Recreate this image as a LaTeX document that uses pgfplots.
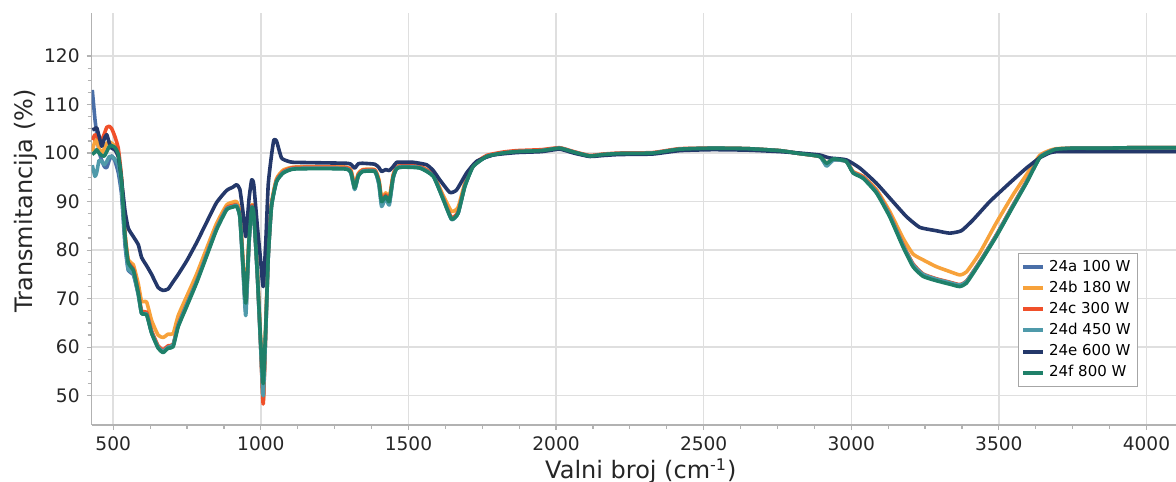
\documentclass[border=0pt]{standalone}
\usepackage{fontspec}
\setmainfont{DejaVu Sans}
\usepackage{pgfplots}
\pgfplotsset{compat=1.18}
\definecolor{ca}{HTML}{4A6FA8}
\definecolor{cb}{HTML}{F7A23B}
\definecolor{cc}{HTML}{F0502A}
\definecolor{cd}{HTML}{4F9AAA}
\definecolor{ce}{HTML}{24386A}
\definecolor{cf}{HTML}{1F8069}
\begin{document}
\begin{tikzpicture}
\begin{axis}[
 at={(0,0)}, anchor=south west,
 scale only axis, width=542.2pt, height=205.8pt,
 xmin=427, xmax=4100, ymin=44, ymax=128.8,
 axis x line*=bottom, axis y line*=left,
 axis line style={draw=gray!60, line width=0.75pt},
 xtick={500,1000,...,4000}, ytick={50,60,...,120},
 minor x tick num=3, minor y tick num=3,
 tick align=outside, major tick length=2.5pt, minor tick length=2pt,
 tick style={gray!60, line width=0.6pt},
 grid=major, major grid style={gray!25, line width=0.75pt},
 ticklabel style={font=\fontsize{9.3}{11}\selectfont, text=black!85},
 /pgf/number format/assume math mode=true,
 /pgf/number format/1000 sep={},
 clip=true,
 legend style={at={(axis description cs:0.854,0.418)}, anchor=north west,
   draw=gray!70, fill=white, font=\fontsize{7.5}{9}\selectfont,
   row sep=-0.6pt, inner sep=1.5pt},
 legend cell align=left,
 legend image code/.code={\draw[#1, line width=2pt] (0pt,0pt) -- (10pt,0pt);},
 every axis plot/.append style={line width=1.8pt, line join=round, smooth, tension=0.3},
]
\addplot[ca] coordinates {
(429,113.0)(438,107.0)(444,104.0)(452,100.3)(461,98.5)(470,97.2)(478,97.0)(487,98.6)(495,99.4)(505,98.5)(517,96.0)(528,91.5)(540,81.0)(551,75.8)(568,75.0)(585,70.8)(596,67.0)(613,66.8)(630,63.0)(652,60.0)(669,59.2)(686,60.0)(703,60.5)(720,64.5)(749,68.8)(782,73.5)(816,79.0)(850,84.5)(884,88.5)(906,89.0)(918,89.2)(929,86.8)(940,76.0)(949,67.5)(960,81.5)(969,88.7)(976,87.6)(988,75.0)(999,60.8)(1008,49.5)(1017,64.0)(1025,78.5)(1036,89.0)(1053,94.2)(1076,96.0)(1110,96.8)(1200,96.9)(1290,96.8)(1305,95.9)(1318,92.6)(1330,95.3)(1345,96.3)(1386,96.3)(1400,93.6)(1409,89.5)(1423,90.9)(1435,89.6)(1448,94.8)(1460,96.9)(1480,97.2)(1539,97.0)(1584,95.3)(1618,90.5)(1646,86.4)(1668,87.6)(1691,93.2)(1719,97.3)(1765,99.3)(1820,100.0)(1866,100.3)(1950,100.5)(2012,101.0)(2060,100.2)(2114,99.4)(2160,99.7)(2215,99.9)(2327,100.0)(2418,100.8)(2530,101.0)(2650,100.9)(2757,100.5)(2825,99.9)(2893,99.3)(2916,97.5)(2940,98.6)(2983,98.3)(3006,96.0)(3040,94.9)(3085,92.0)(3130,87.2)(3175,81.0)(3209,77.0)(3243,75.0)(3288,74.0)(3333,73.3)(3367,72.8)(3390,73.5)(3435,77.5)(3491,83.0)(3548,89.2)(3593,94.0)(3638,99.1)(3670,100.3)(3694,100.8)(3750,101.0)(3850,101.0)(3950,101.1)(4050,101.1)(4100,101.1)
};
\addlegendentry{24a 100 W}
\addplot[cb] coordinates {
(429,100.3)(438,102.5)(444,102.7)(452,101.0)(461,100.0)(470,101.0)(478,102.0)(487,102.3)(495,102.0)(505,101.5)(517,99.5)(528,94.5)(540,83.5)(551,78.0)(568,77.0)(585,73.0)(596,69.5)(613,69.3)(630,65.5)(652,62.5)(669,62.0)(686,62.7)(703,62.8)(720,66.5)(749,70.5)(782,75.0)(816,80.3)(850,85.5)(884,89.3)(906,89.9)(918,90.0)(929,87.8)(940,77.5)(949,69.5)(960,82.8)(969,89.2)(976,88.3)(988,76.0)(999,62.0)(1008,49.0)(1017,65.5)(1025,79.5)(1036,89.6)(1053,94.7)(1076,96.5)(1110,97.1)(1200,97.2)(1290,97.1)(1305,96.5)(1318,93.5)(1330,95.8)(1345,96.6)(1386,96.6)(1400,94.5)(1409,90.8)(1423,91.8)(1435,90.8)(1448,95.5)(1460,97.2)(1480,97.5)(1539,97.3)(1584,95.6)(1618,91.2)(1646,88.0)(1668,88.8)(1691,93.8)(1719,97.5)(1765,99.4)(1820,100.0)(1866,100.3)(1950,100.5)(2012,101.0)(2060,100.2)(2114,99.4)(2160,99.7)(2215,99.9)(2327,100.0)(2418,100.8)(2530,101.0)(2650,100.9)(2757,100.5)(2825,99.9)(2893,99.3)(2916,97.9)(2940,98.8)(2983,98.4)(3006,96.2)(3040,95.2)(3085,92.5)(3130,88.0)(3175,82.5)(3209,79.2)(3243,78.0)(3288,76.6)(3333,75.6)(3367,74.9)(3390,75.5)(3435,79.4)(3491,85.6)(3548,91.4)(3593,95.5)(3638,99.5)(3670,100.5)(3694,100.9)(3750,101.0)(3850,101.0)(3950,101.1)(4050,101.1)(4100,101.1)
};
\addlegendentry{24b 180 W}
\addplot[cc] coordinates {
(429,102.7)(438,103.8)(444,103.5)(452,103.0)(461,102.7)(470,104.0)(478,105.3)(487,105.5)(495,105.0)(505,103.5)(517,101.0)(528,95.0)(540,83.0)(551,77.5)(568,76.2)(585,71.5)(596,67.5)(613,67.2)(630,63.4)(652,60.3)(669,59.5)(686,60.3)(703,60.6)(720,64.7)(749,68.9)(782,73.6)(816,79.1)(850,84.6)(884,88.7)(906,89.2)(918,89.3)(929,87.2)(940,76.8)(949,68.0)(960,82.3)(969,89.0)(976,87.9)(988,75.4)(999,61.0)(1008,48.3)(1017,64.5)(1025,79.0)(1036,89.3)(1053,94.4)(1076,96.2)(1110,97.0)(1200,97.1)(1290,97.0)(1305,96.3)(1318,93.1)(1330,95.6)(1345,96.5)(1386,96.5)(1400,94.2)(1409,90.3)(1423,91.4)(1435,90.3)(1448,95.3)(1460,97.1)(1480,97.4)(1539,97.2)(1584,95.5)(1618,90.7)(1646,86.7)(1668,87.9)(1691,93.4)(1719,97.5)(1765,99.5)(1820,100.2)(1866,100.5)(1950,100.7)(2012,101.1)(2060,100.3)(2114,99.5)(2160,99.8)(2215,100.0)(2327,100.1)(2418,100.9)(2530,101.0)(2650,100.9)(2757,100.5)(2825,99.9)(2893,99.3)(2916,97.8)(2940,98.7)(2983,98.3)(3006,96.1)(3040,95.1)(3085,92.2)(3130,87.4)(3175,81.2)(3209,77.2)(3243,75.1)(3288,74.1)(3333,73.4)(3367,72.9)(3390,73.6)(3435,77.6)(3491,83.1)(3548,89.3)(3593,94.1)(3638,99.2)(3670,100.3)(3694,100.8)(3750,101.0)(3850,101.0)(3950,101.1)(4050,101.1)(4100,101.1)
};
\addlegendentry{24c 300 W}
\addplot[cd] coordinates {
(429,97.5)(438,95.2)(444,96.0)(452,98.5)(461,98.3)(470,97.6)(478,98.3)(487,99.3)(495,99.3)(505,98.8)(517,97.5)(528,92.8)(540,81.8)(551,76.0)(568,75.3)(585,70.8)(596,67.0)(613,66.8)(630,63.0)(652,60.0)(669,59.2)(686,60.0)(703,60.5)(720,64.5)(749,68.8)(782,73.5)(816,79.0)(850,84.5)(884,88.5)(906,89.0)(918,89.2)(929,86.8)(940,75.5)(949,66.5)(960,81.5)(969,88.7)(976,87.6)(988,75.0)(999,60.5)(1008,50.0)(1017,64.0)(1025,78.5)(1036,89.0)(1053,94.2)(1076,96.0)(1110,96.8)(1200,96.9)(1290,96.8)(1305,95.9)(1318,92.5)(1330,95.3)(1345,96.3)(1386,96.3)(1400,93.5)(1409,89.0)(1423,90.8)(1435,89.3)(1448,94.8)(1460,96.9)(1480,97.2)(1539,97.0)(1584,95.3)(1618,90.5)(1646,86.3)(1668,87.6)(1691,93.2)(1719,97.3)(1765,99.3)(1820,100.0)(1866,100.3)(1950,100.5)(2012,101.0)(2060,100.2)(2114,99.4)(2160,99.7)(2215,99.9)(2327,100.0)(2418,100.8)(2530,101.0)(2650,100.9)(2757,100.5)(2825,99.9)(2893,99.3)(2916,97.3)(2940,98.6)(2983,98.3)(3006,96.0)(3040,94.9)(3085,92.0)(3130,87.2)(3175,81.0)(3209,77.0)(3243,75.0)(3288,74.0)(3333,73.3)(3367,72.8)(3390,73.5)(3435,77.5)(3491,83.0)(3548,89.2)(3593,94.0)(3638,99.1)(3670,100.3)(3694,100.8)(3750,101.0)(3850,101.0)(3950,101.1)(4050,101.1)(4100,101.1)
};
\addlegendentry{24d 450 W}
\addplot[ce] coordinates {
(429,104.8)(438,105.0)(444,105.2)(452,103.5)(461,101.4)(470,103.0)(478,103.8)(487,102.0)(495,101.0)(505,100.7)(517,99.3)(528,94.5)(540,88.0)(551,84.5)(568,82.8)(585,81.1)(596,78.5)(613,76.8)(630,75.0)(652,72.3)(669,71.7)(686,72.0)(703,73.5)(720,75.0)(749,77.8)(782,81.5)(816,85.7)(850,89.8)(884,92.3)(906,93.0)(918,93.5)(929,92.5)(940,87.6)(949,82.8)(960,90.6)(969,94.5)(976,93.5)(988,85.0)(999,78.0)(1008,72.5)(1017,82.1)(1025,93.5)(1036,99.5)(1044,102.7)(1053,102.5)(1070,99.0)(1093,98.3)(1110,98.1)(1200,98.0)(1290,97.9)(1305,97.7)(1318,96.9)(1330,97.8)(1345,97.9)(1386,97.7)(1400,97.0)(1409,96.2)(1423,96.6)(1435,96.4)(1448,97.2)(1460,98.1)(1480,98.1)(1516,98.1)(1561,97.6)(1584,96.4)(1606,94.5)(1640,91.9)(1663,92.4)(1697,95.9)(1731,98.3)(1787,99.6)(1866,100.1)(1950,100.3)(2012,100.8)(2060,100.0)(2114,99.3)(2160,99.5)(2215,99.7)(2327,99.8)(2418,100.5)(2530,100.7)(2650,100.6)(2757,100.3)(2825,100.0)(2893,99.6)(2926,99.0)(2983,98.6)(3029,96.9)(3085,93.8)(3141,90.0)(3187,86.9)(3232,84.7)(3288,84.0)(3333,83.5)(3373,84.0)(3412,86.2)(3469,90.0)(3536,93.8)(3593,96.9)(3638,99.0)(3670,100.0)(3694,100.3)(3750,100.3)(3850,100.3)(3950,100.3)(4050,100.3)(4100,100.3)
};
\addlegendentry{24e 600 W}
\addplot[cf] coordinates {
(429,99.7)(438,100.2)(444,100.7)(452,100.0)(461,99.5)(470,99.4)(478,100.3)(487,101.4)(495,101.5)(505,101.2)(517,99.8)(528,94.5)(540,82.8)(551,77.3)(568,75.9)(585,71.1)(596,67.0)(613,66.7)(630,62.9)(652,59.8)(669,58.9)(686,59.8)(703,60.1)(720,64.2)(749,68.4)(782,73.2)(816,78.7)(850,84.2)(884,88.3)(906,88.9)(918,89.0)(929,86.9)(940,76.6)(949,69.1)(960,82.1)(969,88.7)(976,87.6)(988,75.3)(999,61.5)(1008,52.5)(1017,64.9)(1025,78.7)(1036,89.0)(1053,94.1)(1076,95.9)(1110,96.7)(1200,96.8)(1290,96.7)(1305,96.0)(1318,92.8)(1330,95.3)(1345,96.2)(1386,96.2)(1400,94.0)(1409,90.0)(1423,91.1)(1435,90.0)(1448,95.0)(1460,96.8)(1480,97.1)(1539,96.9)(1584,95.2)(1618,90.4)(1646,86.4)(1668,87.6)(1691,93.1)(1719,97.2)(1765,99.3)(1820,100.0)(1866,100.3)(1950,100.5)(2012,101.0)(2060,100.2)(2114,99.4)(2160,99.7)(2215,99.9)(2327,100.0)(2418,100.8)(2530,101.0)(2650,100.9)(2757,100.5)(2825,99.9)(2893,99.3)(2916,97.9)(2940,98.8)(2983,98.3)(3006,95.9)(3040,94.8)(3085,91.8)(3130,86.9)(3175,80.7)(3209,76.6)(3243,74.6)(3288,73.7)(3333,73.0)(3367,72.5)(3390,73.2)(3435,77.3)(3491,82.8)(3548,89.0)(3593,93.8)(3638,99.0)(3670,100.2)(3694,100.8)(3750,101.0)(3850,101.0)(3950,101.1)(4050,101.1)(4100,101.1)
};
\addlegendentry{24f 800 W}
\end{axis}
\node[anchor=base, text=black!85, font=\fontsize{12}{14}\selectfont] at (274.6pt,-27pt) {Valni broj (cm\textsuperscript{-1})};
\node[anchor=base, rotate=90, text=black!85, font=\fontsize{12}{14}\selectfont] at (-29.7pt,112pt) {Transmitancija (\%)};
\pgfresetboundingbox
\path[use as bounding box] (-45.85pt,-28.5pt) rectangle (542.2pt,212.45pt);
\end{tikzpicture}
\end{document}
